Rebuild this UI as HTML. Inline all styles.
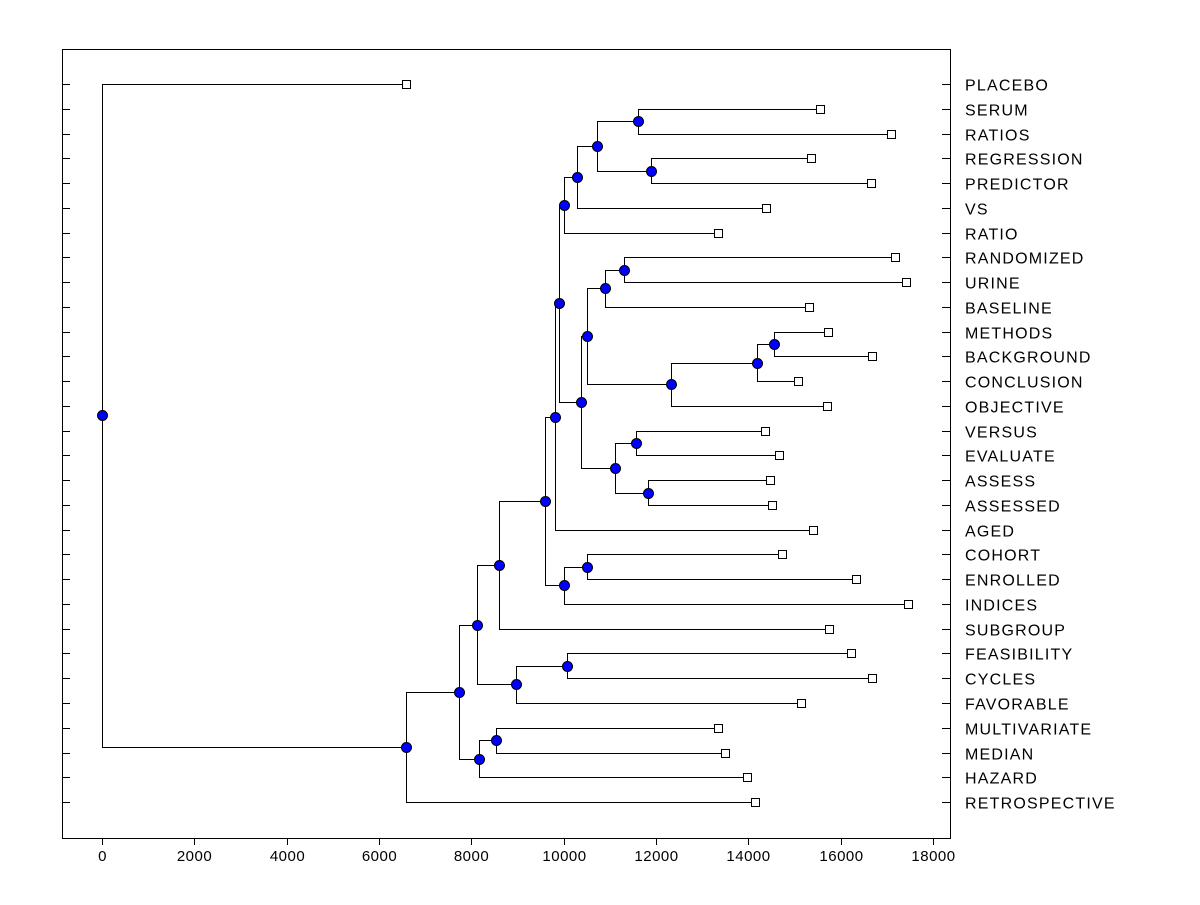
<!DOCTYPE html>
<html><head><meta charset="utf-8"><style>
body{margin:0;background:#fff;}
svg text{font-family:"Liberation Sans",Arial,sans-serif;}
</style></head><body>
<svg id="chart" width="1200" height="900" xmlns="http://www.w3.org/2000/svg">
<rect x="0" y="0" width="1200" height="900" fill="#fff"/>
<rect x="62.5" y="49.5" width="888" height="789" fill="none" stroke="#000"/>
<g id="g"></g>
</svg>
<script>
const leafNames=["PLACEBO","SERUM","RATIOS","REGRESSION","PREDICTOR","VS","RATIO","RANDOMIZED","URINE","BASELINE","METHODS","BACKGROUND","CONCLUSION","OBJECTIVE","VERSUS","EVALUATE","ASSESS","ASSESSED","AGED","COHORT","ENROLLED","INDICES","SUBGROUP","FEASIBILITY","CYCLES","FAVORABLE","MULTIVARIATE","MEDIAN","HAZARD","RETROSPECTIVE"];
const leafHeights=[6585,15550,17090,15356,16656,14382,13342,17176,17414,15313,15725,16678,15075,15703,14360,14663,14468,14512,15400,14728,16331,17457,15746,16223,16678,15140,13342,13494,13970,14144];
const mergeChildren=[
["L1","L2"],["L3","L4"],["N0","N1"],["N2","L5"],["N3","L6"],
["L7","L8"],["N5","L9"],["L10","L11"],["N7","L12"],["N8","L13"],
["N6","N9"],["L14","L15"],["L16","L17"],["N11","N12"],["N10","N13"],
["N4","N14"],["N15","L18"],["L19","L20"],["N17","L21"],["N16","N18"],
["N19","L22"],["L23","L24"],["N21","L25"],["N20","N22"],["L26","L27"],
["N24","L28"],["N23","N25"],["N26","L29"],["L0","N27"]];
const mergeHeights=[11609,11891,10721,10288,10007,11306,10895,14555,14187,12324,10505,11566,11826,11111,10375,9898,9812,10505,10007,9595,8599,10072,8967,8122,8534,8166,7732,6585,0];
const xTicks=[0,2000,4000,6000,8000,10000,12000,14000,16000,18000];

const NS="http://www.w3.org/2000/svg";
const g=document.getElementById('g');
const X=v=>102+v*(831/18000);
const Y=i=>84+i*24.76;
function el(t,a){const e=document.createElementNS(NS,t);for(const k in a)e.setAttribute(k,a[k]);g.appendChild(e);return e;}

leafNames.forEach((n,i)=>{
  const y=Math.round(Y(i))+0.5;
  let t=el('line',{x1:62,x2:70,y1:y,y2:y,stroke:'#000'});
  
  
  t=el('line',{x1:942,x2:950,y1:y,y2:y,stroke:'#000'});
  
  
  const tx=el('text',{x:965,y:y+6,'font-size':16,'letter-spacing':1.2});
  tx.textContent=n;
  
  
});
xTicks.forEach(v=>{
  const x=Math.round(X(v))+0.5;
  const t=el('line',{x1:x,x2:x,y1:838,y2:845,stroke:'#000'});
  
  
  const tx=el('text',{x:x,y:861,'font-size':15,'letter-spacing':0.5,'text-anchor':'middle'});
  tx.textContent=v;
  
  
});

const pos={};
leafNames.forEach((n,i)=>pos['L'+i]={x:X(leafHeights[i]),y:Y(i)});
mergeChildren.forEach((c,i)=>{
  const a=pos[c[0]],b=pos[c[1]];
  pos['N'+i]={x:X(mergeHeights[i]),y:(a.y+b.y)/2};
});
mergeChildren.forEach((c,i)=>{
  const p=pos['N'+i],a=pos[c[0]],b=pos[c[1]];
  const px=Math.round(p.x)+0.5;
  const d=`M${Math.round(a.x)+0.5},${Math.round(a.y)+0.5}H${px}V${Math.round(b.y)+0.5}H${Math.round(b.x)+0.5}`;
  const e=el('path',{d:d,fill:'none',stroke:'#000','stroke-width':1});
  
  
});
leafNames.forEach((n,i)=>{
  const p=pos['L'+i];
  const r=el('rect',{x:Math.round(p.x)-3.5,y:Math.round(p.y)-3.5,width:8,height:8,fill:'#fff',stroke:'#000'});
  
  
});
mergeChildren.forEach((c,i)=>{
  const p=pos['N'+i];
  const r=el('circle',{cx:Math.round(p.x)+0.5,cy:Math.round(p.y)+0.5,r:5,fill:'#0000ff',stroke:'#000'});
  
  
});
</script>
</body></html>
